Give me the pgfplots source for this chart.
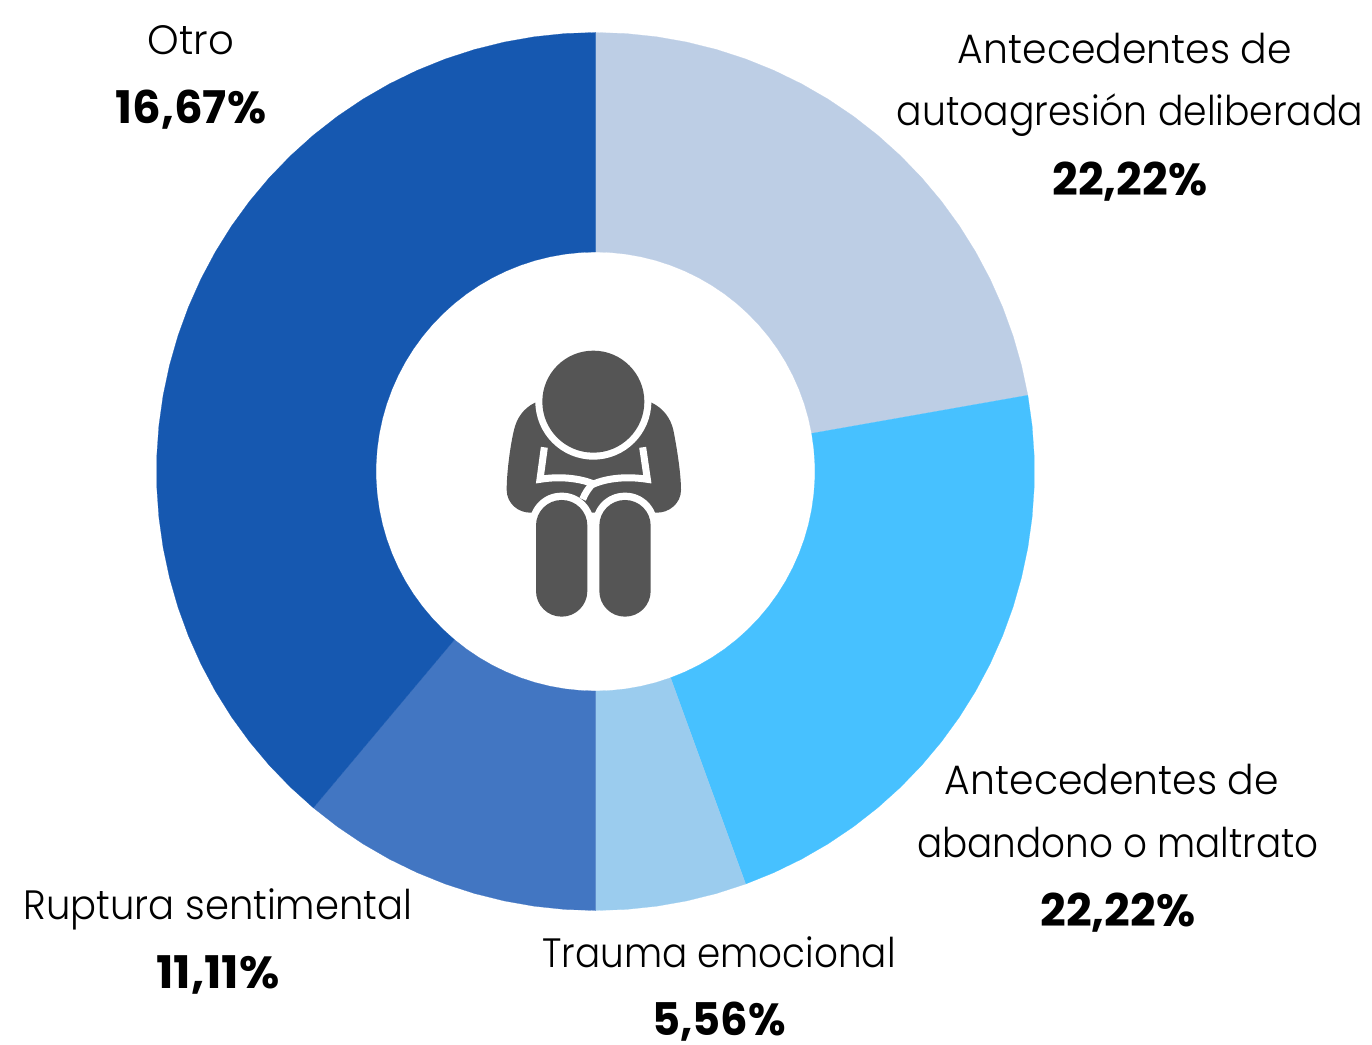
\documentclass[border=0pt]{standalone}
\usepackage{fontspec}
\setmainfont{Poppins Light}
\newfontfamily\boldf{Poppins Bold}
\usepackage{pgfplots}
\usepgfplotslibrary{polar}
\pgfplotsset{compat=1.18}
\definecolor{cA}{HTML}{BDCEE5}
\definecolor{cB}{HTML}{47C1FF}
\definecolor{cC}{HTML}{9BCCEE}
\definecolor{cD}{HTML}{4276C2}
\definecolor{cE}{HTML}{1658B0}
\definecolor{ic}{HTML}{555555}
\newcommand{\lab}[4]{\node[anchor=base,inner sep=0pt] at (#1pt,{1044pt-#2pt}) {\scalebox{#3}[1]{\fontsize{41}{41}\selectfont #4}};}
\newcommand{\labb}[4]{\node[anchor=base,inner sep=0pt] at (#1pt,{1044pt-#2pt}) {\scalebox{#3}[1]{\fontsize{45}{45}\selectfont\boldf #4}};}
\begin{document}
\begin{tikzpicture}
\useasboundingbox (0,0) rectangle (1372pt,1044pt);
\begin{polaraxis}[at={(595.5pt,572.5pt)},anchor=center,scale only axis,width=878pt,height=878pt,
  hide axis,clip=false,xmin=0,xmax=360,ymin=0,ymax=438]
\addplot[fill=cA,draw=cA,line width=0.2pt,mark=none] coordinates {
(90,438)(86,438)(82,438)(78,438)(74,438)(70,438)(66,438)(62,438)(58,438)(54,438)(50,438)(46,438)(42,438)(38,438)(34,438)(30,438)(26,438)(22,438)(18,438)(14,438)(10,438)
(10,219)(14,219)(18,219)(22,219)(26,219)(30,219)(34,219)(38,219)(42,219)(46,219)(50,219)(54,219)(58,219)(62,219)(66,219)(70,219)(74,219)(78,219)(82,219)(86,219)(90,219)(90,438)};
\addplot[fill=cB,draw=cB,line width=0.2pt,mark=none] coordinates {
(10,438)(6,438)(2,438)(-2,438)(-6,438)(-10,438)(-14,438)(-18,438)(-22,438)(-26,438)(-30,438)(-34,438)(-38,438)(-42,438)(-46,438)(-50,438)(-54,438)(-58,438)(-62,438)(-66,438)(-70,438)
(-70,219)(-66,219)(-62,219)(-58,219)(-54,219)(-50,219)(-46,219)(-42,219)(-38,219)(-34,219)(-30,219)(-26,219)(-22,219)(-18,219)(-14,219)(-10,219)(-6,219)(-2,219)(2,219)(6,219)(10,219)(10,438)};
\addplot[fill=cC,draw=cC,line width=0.2pt,mark=none] coordinates {
(-70,438)(-74,438)(-78,438)(-82,438)(-86,438)(-90,438)
(-90,219)(-86,219)(-82,219)(-78,219)(-74,219)(-70,219)(-70,438)};
\addplot[fill=cD,draw=cD,line width=0.2pt,mark=none] coordinates {
(-90,438)(-94,438)(-98,438)(-102,438)(-106,438)(-110,438)(-114,438)(-118,438)(-122,438)(-126,438)(-130,438)
(-130,219)(-126,219)(-122,219)(-118,219)(-114,219)(-110,219)(-106,219)(-102,219)(-98,219)(-94,219)(-90,219)(-90,438)};
\addplot[fill=cE,draw=cE,line width=0.2pt,mark=none] coordinates {
(-130,438)(-134,438)(-138,438)(-142,438)(-146,438)(-150,438)(-154,438)(-158,438)(-162,438)(-166,438)(-170,438)(-174,438)(-178,438)(-182,438)(-186,438)(-190,438)(-194,438)(-198,438)(-202,438)(-206,438)(-210,438)(-214,438)(-218,438)(-222,438)(-226,438)(-230,438)(-234,438)(-238,438)(-242,438)(-246,438)(-250,438)(-254,438)(-258,438)(-262,438)(-266,438)(-270,438)
(-270,219)(-266,219)(-262,219)(-258,219)(-254,219)(-250,219)(-246,219)(-242,219)(-238,219)(-234,219)(-230,219)(-226,219)(-222,219)(-218,219)(-214,219)(-210,219)(-206,219)(-202,219)(-198,219)(-194,219)(-190,219)(-186,219)(-182,219)(-178,219)(-174,219)(-170,219)(-166,219)(-162,219)(-158,219)(-154,219)(-150,219)(-146,219)(-142,219)(-138,219)(-134,219)(-130,219)(-130,438)};
\end{polaraxis}
% icon
\begin{scope}[shift={(490pt,704pt)},x=0.33333pt,y=-0.33333pt]
\fill[ic] (135,188) .. controls (100,205) and (80,235) .. (72,270) .. controls (60,320) and (50,400) .. (50,450) .. controls (50,490) and (85,520) .. (125,518) -- (497,518) .. controls (537,520) and (573,490) .. (573,450) .. controls (573,400) and (560,320) .. (550,270) .. controls (542,235) and (520,205) .. (485,188) -- cycle;
\draw[white,line width=7pt,line join=miter] (163,322) -- (150,418) .. controls (210,408) and (270,415) .. (311,432) .. controls (350,415) and (410,408) .. (472,418) -- (458,322);
\draw[white,line width=7pt] (311,428) .. controls (295,445) and (285,460) .. (278,478);
\fill[white,rounded corners=32pt] (118,458) rectangle (312,850);
\fill[white,rounded corners=32pt] (308,458) rectangle (502,850);
\fill[ic,rounded corners=25.6pt] (138,480) rectangle (292,830);
\fill[ic,rounded corners=25.6pt] (328,480) rectangle (482,830);
\fill[white] (310,185) circle (58pt);
\fill[ic] (310,185) circle (51pt);
\end{scope}
% labels
\lab{191}{55}{0.98}{Otro}
\labb{191}{124}{1}{16,67\%}
\lab{1125}{64}{0.96}{Antecedentes de}
\lab{1130}{126}{0.92}{autoagresión deliberada}
\labb{1130}{196}{1}{22,22\%}
\lab{1112}{795}{0.96}{Antecedentes de}
\lab{1118}{857}{0.91}{abandono o maltrato}
\labb{1118}{926}{1}{22,22\%}
\lab{218}{919}{0.94}{Ruptura sentimental}
\labb{218}{988}{1.03}{11,11\%}
\lab{719}{967}{0.91}{Trauma emocional}
\labb{719}{1035}{0.96}{5,56\%}
\end{tikzpicture}
\end{document}
